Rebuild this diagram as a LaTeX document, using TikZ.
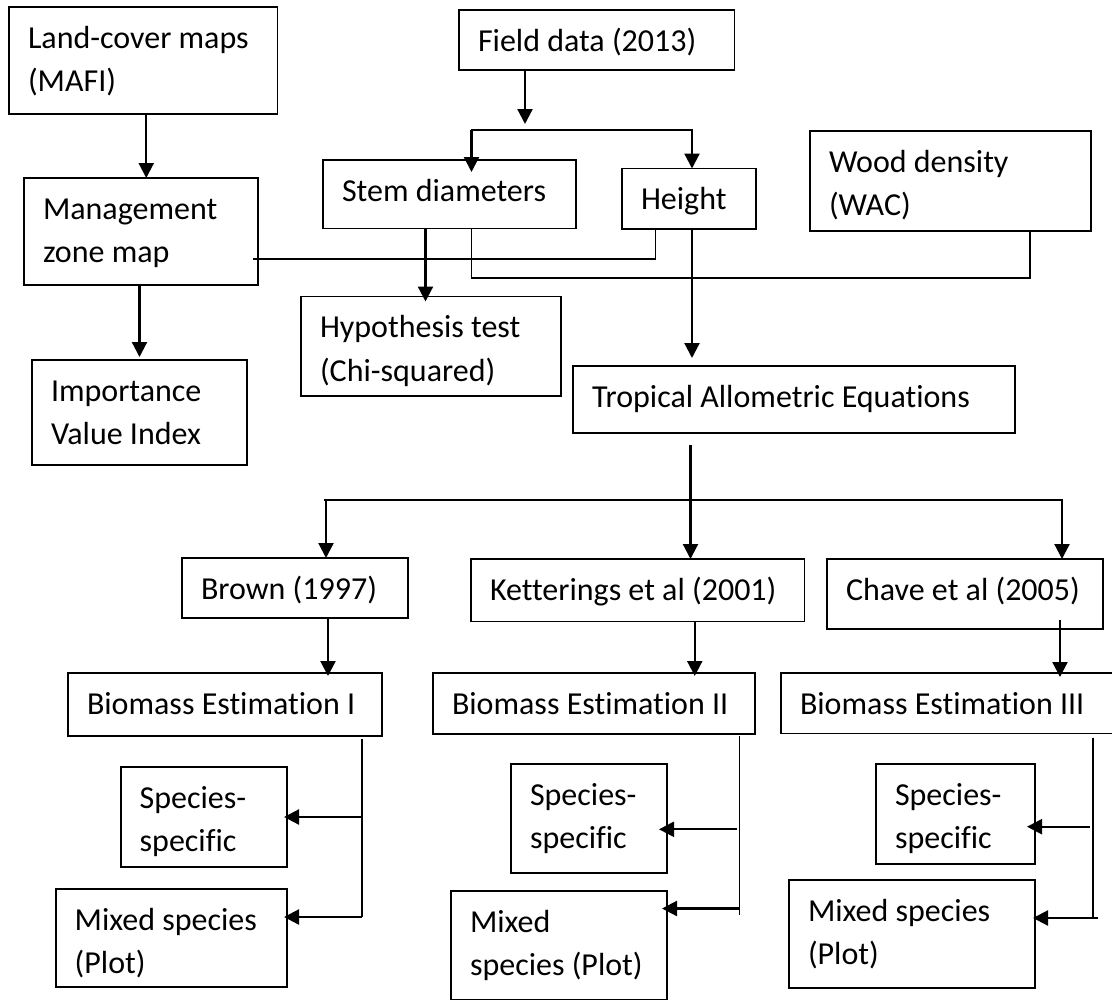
\documentclass[tikz,border=0pt]{standalone}
\usepackage{fontspec}
\setmainfont[Ligatures=CommonOff]{Carlito}
\usetikzlibrary{arrows.meta,calc}
\newcommand{\mybox}[5]{\node[box,minimum width={#4-#2},minimum height={#5-#3}] (#1) at (#2,#3) {};}
\newcommand{\mytxt}[4]{\node[lbl] (#1) at ($(#2.north west)+(19,#3)$) {#4};}
\begin{document}
\begin{tikzpicture}[x=1pt,y=-1pt,
  box/.style={draw=black,line width=1.8pt,inner sep=0pt,outer sep=0pt,anchor=north west},
  lbl/.style={anchor=base west,inner sep=0pt,outer sep=0pt,font=\fontsize{32}{40}\selectfont},
  arr/.style={line width=2.2pt,-{Triangle[length=15pt,width=15pt]}},
  ln/.style={line width=1.4pt},
  lnb/.style={line width=1.9pt}]
\useasboundingbox[fill=white] (0,0) rectangle (1112,1001);

% boxes
\mybox{lc}{9}{7}{277.5}{114}
\mybox{fd}{459}{10}{734.5}{70}
\mybox{mz}{24}{178}{258}{285}
\mybox{stem}{323}{160}{576}{228.5}
\mybox{height}{622}{168.5}{756}{229}
\mybox{wd}{810}{131}{1091}{231}
\mybox{hyp}{301}{296.5}{561}{396}
\mybox{ivi}{32}{360}{247}{465}
\mybox{tae}{573}{366}{1015}{433}
\mybox{brown}{182}{558}{408}{618}
\mybox{ket}{471}{559}{804.5}{621.5}
\mybox{chave}{827}{559}{1103}{629}
\mybox{be1}{68}{673}{382}{736}
\mybox{be2}{433}{673}{755}{734}
\mybox{be3}{781}{673}{1125}{733.5}
\mybox{ss1}{120.7}{767}{287}{867}
\mybox{mx1}{55.7}{889}{287}{987}
\mybox{ss2}{511}{764}{667}{873}
\mybox{mx2}{451}{891}{667}{999.5}
\mybox{ss3}{876}{764}{1035}{864}
\mybox{mx3}{789}{880}{1035}{988}

% texts
\mytxt{lcA}{lc}{41}{Land-cover maps}
\mytxt{lcB}{lc}{84.5}{(MAFI)}
\mytxt{fdA}{fd}{41}{Field data (2013)}
\mytxt{mzA}{mz}{41}{Management}
\mytxt{mzB}{mz}{84.5}{zone map}
\mytxt{stemA}{stem}{41}{Stem diameters}
\mytxt{heightA}{height}{41}{Height}
\mytxt{wdA}{wd}{41}{Wood density}
\mytxt{wdB}{wd}{84.5}{(WAC)}
\mytxt{hypA}{hyp}{41}{Hypothesis test}
\mytxt{hypB}{hyp}{84.5}{(Chi-squared)}
\mytxt{iviA}{ivi}{41}{Importance}
\mytxt{iviB}{ivi}{84.5}{Value Index}
\mytxt{taeA}{tae}{41}{Tropical Allometric Equations}
\mytxt{brownA}{brown}{41}{Brown (1997)}
\mytxt{ketA}{ket}{41}{Ketterings et al (2001)}
\mytxt{chaveA}{chave}{41}{Chave et al (2005)}
\mytxt{beA}{be1}{41}{Biomass Estimation I}
\mytxt{beB}{be2}{41}{Biomass Estimation II}
\mytxt{beC}{be3}{41}{Biomass Estimation III}
\mytxt{ssAa}{ss1}{41}{Species-}
\mytxt{ssAb}{ss1}{84.5}{specific}
\mytxt{ssBa}{ss2}{41}{Species-}
\mytxt{ssBb}{ss2}{84.5}{specific}
\mytxt{ssCa}{ss3}{41}{Species-}
\mytxt{ssCb}{ss3}{84.5}{specific}
\mytxt{mxAa}{mx1}{41}{Mixed species}
\mytxt{mxAb}{mx1}{84.5}{(Plot)}
\mytxt{mxBa}{mx2}{41}{Mixed}
\mytxt{mxBb}{mx2}{84.5}{species (Plot)}
\mytxt{mxCa}{mx3}{41}{Mixed species}
\mytxt{mxCb}{mx3}{84.5}{(Plot)}

% junction coordinates
\coordinate (j0) at (525,130);
\coordinate (jl) at (471.5,130);
\coordinate (jr) at (692,130);
\coordinate (c1) at (655.5,259);
\coordinate (c2) at (1030,278);
\coordinate (b0) at (690.5,500);
\coordinate (bl) at (326,500);
\coordinate (br) at (1062,500);
\coordinate (v1) at (362,917);
\coordinate (v2) at (739.5,915);
\coordinate (v3) at (1093,917);
\coordinate (a2s) at (737,829.3);
\coordinate (a2m) at (739.5,908.5);
\coordinate (a3s) at (1089.5,826.7);
\coordinate (a3m) at (1098,918);

% top-left chain
\draw[arr] ([xshift=3pt]lc.south) -- ([xshift=3pt]lc.south |- mz.north);
\draw[arr] (mz.south -| ivi.north) -- ([yshift=3pt]ivi.north);

% field data split
\draw[arr] (fd.south -| j0) -- ([yshift=6pt]j0);
\draw[lnb] ([xshift=-1pt]jl) -- ([xshift=1pt]jr);
\draw[arr] (jl) -- ([yshift=-12pt]jl |- stem.north);
\draw[arr] (jr) -- (jr |- height.north);

% stem diameters outputs
\draw[arr] ([xshift=-24pt]stem.south) -- ([xshift=-24pt,yshift=-5pt]stem.south |- hyp.north);
\draw[ln] ([xshift=22pt]stem.south) |- (c2) -- (c2 |- wd.south);

% management zone map to height
\draw[ln] ([xshift=-5pt]mz.east |- c1) -- (c1) -- (c1 |- height.south);

% height to allometric equations
\draw[arr] (jr |- height.south) -- ([yshift=8pt]jr |- tae.north);

% allometric equations split
\draw[arr] ([yshift=-12pt]tae.south -| b0) -- (b0 |- ket.north);
\draw[lnb] ([xshift=-2pt]bl) -- ([xshift=1pt]br);
\draw[arr] (bl) -- (bl |- brown.north);
\draw[arr] (br) -- (br |- chave.north);

% equations to biomass estimations
\draw[arr] ([xshift=2pt]brown.south -| bl) -- ([xshift=2pt,yshift=-3pt]bl |- be1.north);
\draw[arr] ([xshift=57pt]ket.south) -- ([xshift=57pt,yshift=-3pt]ket.south |- be2.north);
\draw[arr] ([xshift=95pt,yshift=9pt]chave.south) -- ([xshift=95pt,yshift=-4pt]chave.south |- be3.north);

% biomass estimation I outputs
\draw[ln] ([yshift=-3pt]be1.south -| v1) -- (v1);
\draw[arr] (v1 |- ss1.east) -- ([xshift=-3pt]ss1.east);
\draw[arr] (v1) -- ([xshift=-3pt]v1 -| mx1.east);

% biomass estimation II outputs
\draw[ln] ([yshift=-2pt]v2 |- be2.south) -- (v2);
\draw[arr] (a2s) -- ([xshift=-8pt]a2s -| ss2.east);
\draw[arr] (a2m) -- ([xshift=-5pt]a2m -| mx2.east);

% biomass estimation III outputs
\draw[ln] ([yshift=-4pt]v3 |- be3.south) -- (v3);
\draw[arr] (a3s) -- ([xshift=-8pt]a3s -| ss3.east);
\draw[arr] (a3m) -- ([xshift=-2pt]a3m -| mx3.east);
\end{tikzpicture}
\end{document}
